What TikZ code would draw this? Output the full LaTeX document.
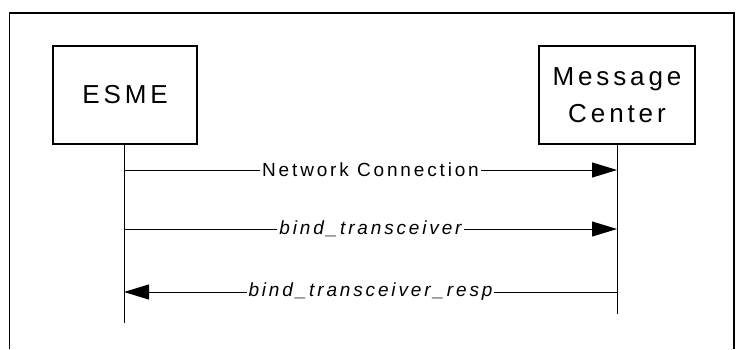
\documentclass[tikz,border=0pt]{standalone}
\usepackage{fontspec}
\setmainfont{Liberation Sans}[LetterSpace=15]
\usetikzlibrary{arrows.meta}

\tikzset{
  party/.style={draw, line width=1.2pt, minimum height=98pt, inner sep=0pt,
    align=center, font=\fontsize{26}{37}\selectfont},
  msg/.style={line width=1pt, -{Triangle[length=25pt,width=15pt]}},
  msglabel/.style={fill=white, inner xsep=2pt, inner ysep=1pt, font=\fontsize{19}{22}\selectfont}
}

\begin{document}
\begin{tikzpicture}[x=1pt,y=-1pt]
\useasboundingbox (0,0) rectangle (740,349);
\draw [line width=1.8pt] (9.4,349) -- (9.4,12.7) -- (733.8,12.7) -- (733.8,349);
% the two parties
\node [party, minimum width=144pt] (esme) at (125,95) {ESME};
\node [party, minimum width=156pt] (mc) at (617,95) {Message\\Center};
% lifelines
\coordinate (esmeEnd) at (124,323);
\coordinate (mcEnd) at (617,314);
\draw [line width=1pt] (esme.south -| esmeEnd) -- (esmeEnd);
\draw [line width=1pt] (mc.south -| mcEnd) -- (mcEnd);
% messages
\coordinate (e1) at (124,170);
\coordinate (m1) at (617,170);
\coordinate (e2) at (124,229);
\coordinate (m2) at (617,229);
\coordinate (e3) at (124,292);
\coordinate (m3) at (617,292);
\draw [msg] (e1) -- node [msglabel] {Network Connection} (m1);
\draw [msg] (e2) -- node [msglabel] {\itshape bind\_transceiver} (m2);
\draw [msg] (m3) -- node [msglabel] {\itshape bind\_transceiver\_resp} (e3);
\end{tikzpicture}
\end{document}
